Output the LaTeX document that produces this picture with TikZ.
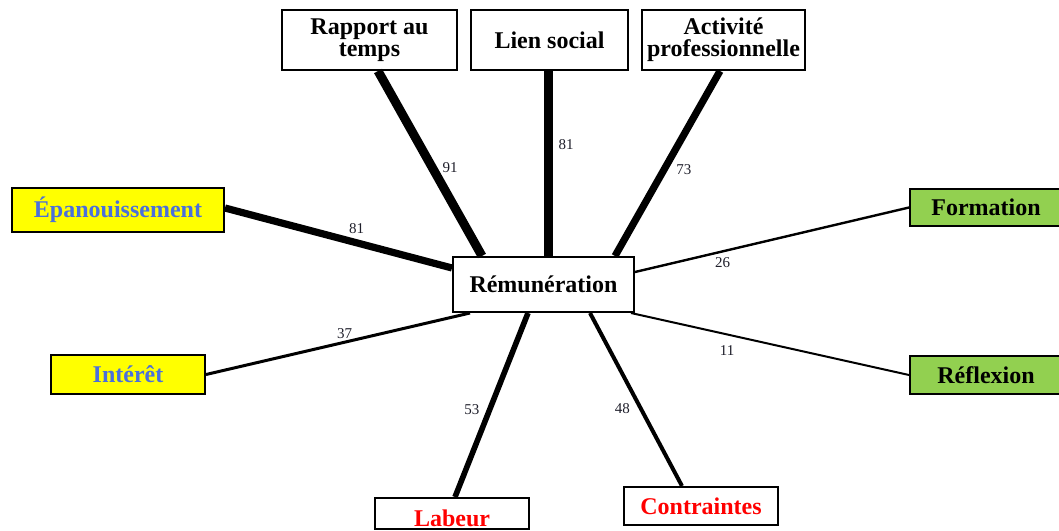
\documentclass[tikz,border=0pt]{standalone}
\usepackage{fontspec}
\setmainfont{Liberation Serif}
\usepackage{tikz}
\usetikzlibrary{calc}
\definecolor{THEMEyellow}{HTML}{FFFF00}
\definecolor{THEMEgreen}{HTML}{92D050}
\definecolor{THEMEblue}{HTML}{4A6FDC}
\definecolor{THEMEred}{HTML}{FF0000}
\definecolor{SCOREcolor}{HTML}{1E1E2A}

\begin{document}
\begin{tikzpicture}[x=0.5pt, y=-0.5pt]
    \tikzset{%
        theme/.style={draw, line width=1pt, fill=white, inner sep=0pt, align=center,
                font=\fontsize{12}{11}\selectfont\bfseries},
        tie/.style={line width=#1},
        score/.style={font=\fontsize{7.5}{7.5}\selectfont, text=SCOREcolor, inner sep=1pt},
    }

    \useasboundingbox (0, 0) rectangle (1059, 530);

    % themes
    \node (remu) at (543.5, 284.5) [theme, minimum width=90.5pt, minimum height=27.5pt] {Rémunération};
    \node (rapport) at (369.5, 40) [theme, minimum width=87.5pt, minimum height=30pt] {Rapport au\\temps};
    \node (lien) at (549.5, 40) [theme, minimum width=78.5pt, minimum height=30pt] {Lien social};
    \node (activite) at (723.5, 40) [theme, minimum width=81.5pt, minimum height=30pt] {Activité\\professionnelle};
    \node (epan) at (118, 210) [theme, fill=THEMEyellow, text=THEMEblue, minimum width=106pt, minimum height=22pt] {Épanouissement};
    \node (interet) at (128, 374.5) [theme, fill=THEMEyellow, text=THEMEblue, minimum width=77pt, minimum height=19.5pt] {Intérêt};
    \node (formation) at (986, 207.5) [theme, fill=THEMEgreen, minimum width=76pt, minimum height=18.5pt] {Formation};
    \node (reflexion) at (986, 375) [theme, fill=THEMEgreen, minimum width=76pt, minimum height=19pt] {Réflexion};
    \node (labeur) at (452, 497) [theme, anchor=north, text=THEMEred, minimum width=77pt, text height=14pt, text depth=1.5pt] {Labeur};
    \node (contraintes) at (701, 506) [theme, text=THEMEred, minimum width=77pt, minimum height=19pt] {Contraintes};

    % links, thicker for higher scores
    \draw [tie=4.5pt] ($(rapport.south)+(8.5, 0)$) -- node [score, pos=0.52, right=2pt] {91} ($(remu.north)+(-61.5, 0)$);
    \draw [tie=4.2pt] ($(lien.south)+(-1, 0)$) -- node [score, pos=0.40, right=2pt] {81} ($(remu.north)+(5, 0)$);
    \draw [tie=3.6pt] ($(activite.south)+(-3.5, 0)$) -- node [score, pos=0.535, right=3.5pt] {73} ($(remu.north)+(71.5, 0)$);
    \draw [tie=3.6pt] ($(epan.east)+(0, -2)$) -- node [score, pos=0.58, above=2pt] {81} ($(remu.west)+(0, -16.5)$);
    \draw [tie=1.2pt] (formation.west) -- node [score, pos=0.68, below=1.75pt] {26} ($(remu.east)+(0, -12.5)$);
    \draw [tie=1.5pt] (interet.east) -- node [score, pos=0.525, above=0pt] {37} ($(remu.south)+(-73.5, 0)$);
    \draw [tie=1pt] (reflexion.west) -- node [score, pos=0.654, below=4.25pt] {11} ($(remu.south east)+(-4, 0)$);
    \draw [tie=2.8pt] ($(labeur.north)+(3, 0)$) -- node [score, pos=0.476, left=2.75pt] {53} ($(remu.south)+(-15.5, 0)$);
    \draw [tie=2pt] ($(contraintes.north)+(-19, 0)$) -- node [score, pos=0.446, left=3.5pt] {48} ($(remu.south)+(46.5, 0)$);
\end{tikzpicture}
\end{document}
